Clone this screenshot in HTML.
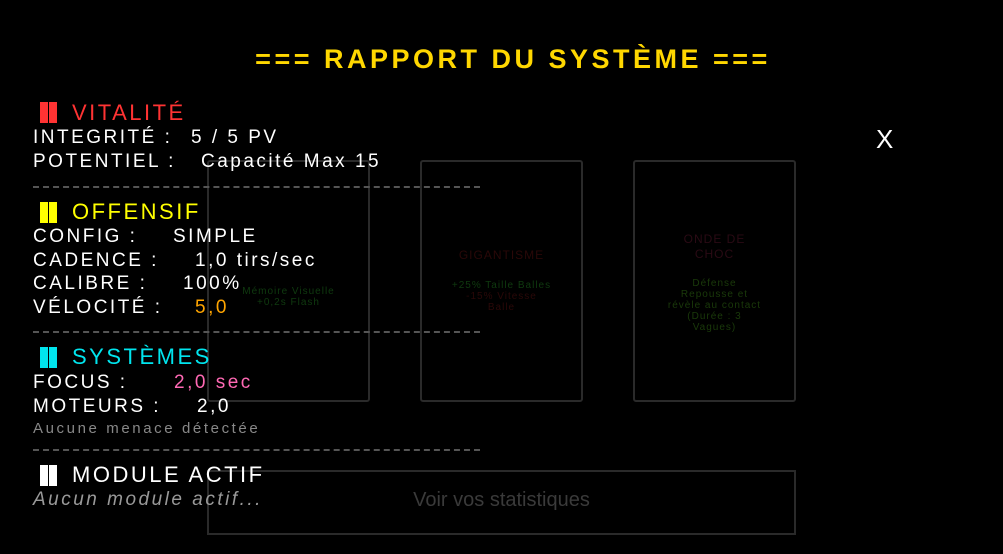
<!DOCTYPE html>
<html><head><meta charset="utf-8"><style>
body{margin:0;width:1003px;height:554px;background:#000;overflow:hidden;position:relative;font-family:"Liberation Sans",sans-serif}
.a{position:absolute;white-space:nowrap}
.card{position:absolute;border:2px solid #2a2a2a;border-radius:3px;box-sizing:border-box}
.l{position:absolute;left:33px;color:#fff;font-size:19px;line-height:20px;white-space:nowrap;letter-spacing:2.5px}
.h{position:absolute;left:72px;font-size:22px;line-height:24px;letter-spacing:2.5px}
.bar{position:absolute;left:40px;width:17px;height:21px}
.bar:after{content:"";position:absolute;left:8px;top:0;width:1px;height:100%;background:#000}
.dash{position:absolute;left:33px;width:447px;border-top:2px dashed #555}
.ct{position:absolute;text-align:center;font-size:10px;line-height:11px;letter-spacing:1px}
</style></head><body>
<div class="card" style="left:207px;top:160px;width:163px;height:242px"></div>
<div class="card" style="left:420px;top:160px;width:163px;height:242px"></div>
<div class="card" style="left:633px;top:160px;width:163px;height:242px"></div>
<div class="card" style="left:207px;top:470px;width:589px;height:65px;border-radius:0"></div>
<div class="a" style="left:207px;width:589px;top:489px;text-align:center;color:#3a3a3a;font-size:20px">Voir vos statistiques</div>
<div class="ct" style="left:207px;width:163px;top:286px;color:#0f3a0f">Mémoire Visuelle<br>+0,2s Flash</div>
<div class="ct" style="left:420px;width:163px;top:250px;color:#2a0808;font-size:12px">GIGANTISME</div>
<div class="ct" style="left:420px;width:163px;top:280px;color:#0f3a0f">+25% Taille Balles<br><span style="color:#2a0808">-15% Vitesse<br>Balle</span></div>
<div class="ct" style="left:633px;width:163px;top:232px;color:#2a0a14;font-size:12px;line-height:15px">ONDE DE<br>CHOC</div>
<div class="ct" style="left:633px;width:163px;top:278px;color:#1a3a0a">Défense<br>Repousse et<br>révèle au contact<br>(Durée : 3<br>Vagues)</div>

<div class="a" style="left:0;width:1026px;top:44px;text-align:center;color:#ffd700;font-size:27px;font-weight:bold;letter-spacing:3.5px">=== RAPPORT DU SYSTÈME ===</div>
<div class="a" style="left:876px;top:124px;color:#fff;font-size:26px">X</div>

<div class="bar" style="top:102px;background:#ff3333"></div>
<div class="h" style="top:101px;color:#ff3333">VITALITÉ</div>
<div class="l" style="top:128px">INTEGRITÉ :<span class="a" style="left:158px">5 / 5 PV</span></div>
<div class="l" style="top:152px">POTENTIEL :<span class="a" style="left:168px">Capacité Max 15</span></div>
<div class="dash" style="top:186px"></div>

<div class="bar" style="top:202px;background:#ffff00"></div>
<div class="h" style="top:200px;color:#ffff00">OFFENSIF</div>
<div class="l" style="top:227px">CONFIG :<span class="a" style="left:140px">SIMPLE</span></div>
<div class="l" style="top:251px">CADENCE :<span class="a" style="left:162px">1,0 tirs/sec</span></div>
<div class="l" style="top:274px">CALIBRE :<span class="a" style="left:150px">100%</span></div>
<div class="l" style="top:298px">VÉLOCITÉ :<span class="a" style="left:162px;color:#ffa500">5,0</span></div>
<div class="dash" style="top:331px"></div>

<div class="bar" style="top:347px;background:#00e5ee"></div>
<div class="h" style="top:345px;color:#00e5ee">SYSTÈMES</div>
<div class="l" style="top:373px">FOCUS :<span class="a" style="left:141px;color:#ff69b4">2,0 sec</span></div>
<div class="l" style="top:397px">MOTEURS :<span class="a" style="left:164px">2,0</span></div>
<div class="l" style="top:419px;color:#888;font-size:15px;letter-spacing:2.6px">Aucune menace détectée</div>
<div class="dash" style="top:449px"></div>

<div class="bar" style="top:465px;background:#fff"></div>
<div class="h" style="top:463px;color:#fff">MODULE ACTIF</div>
<div class="l" style="top:490px;color:#999;font-style:italic;font-size:19px;letter-spacing:2.5px">Aucun module actif...</div>
</body></html>
